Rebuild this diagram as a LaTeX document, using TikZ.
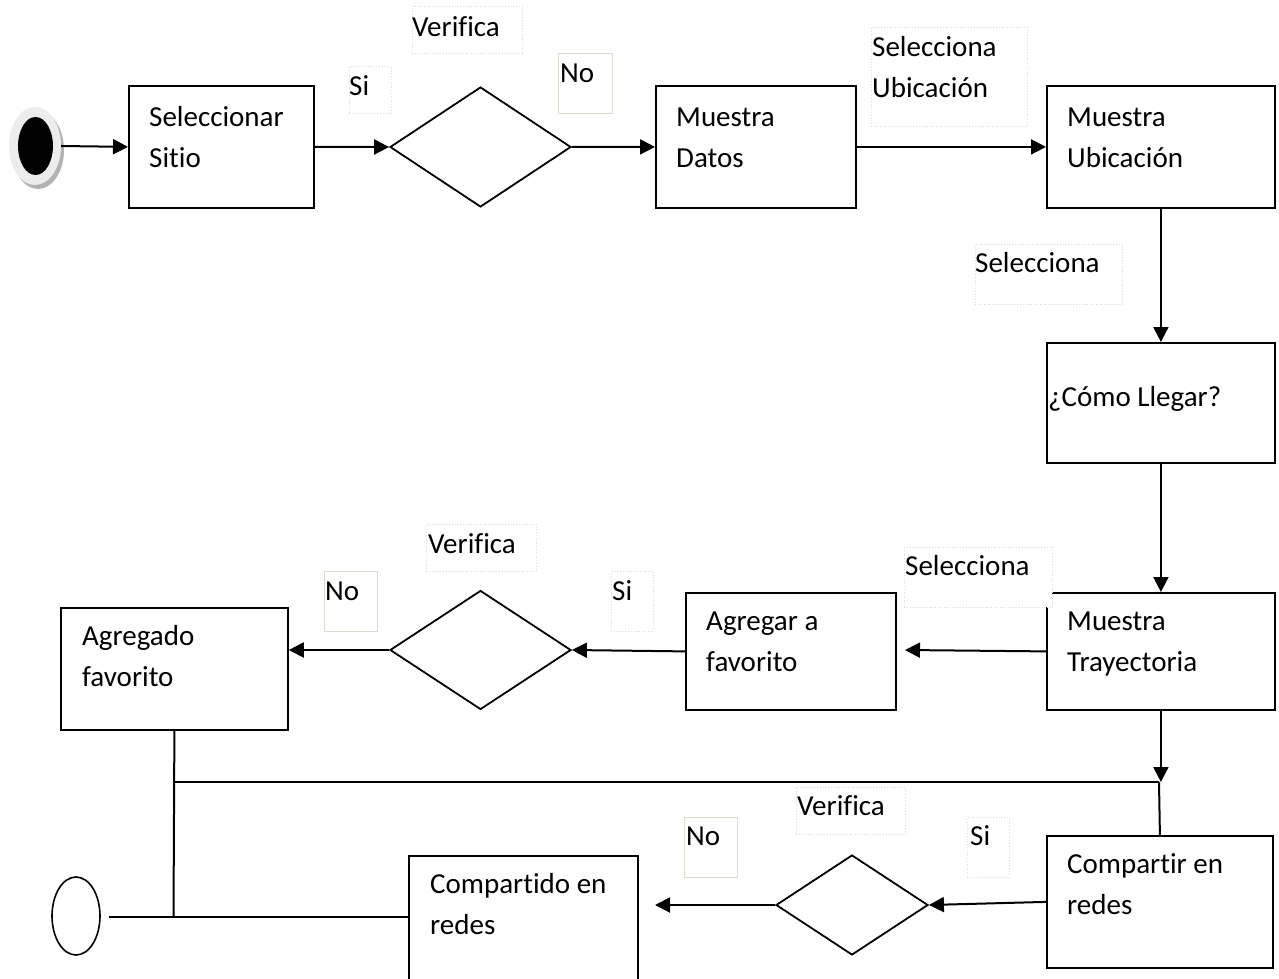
\documentclass[tikz,border=0pt]{standalone}
\usepackage{fontspec}
\setmainfont{Carlito}[Ligatures=NoCommon]
\usetikzlibrary{arrows.meta,shapes.geometric,calc}
\definecolor{lblbd}{RGB}{222,218,206}
\begin{document}
\begin{tikzpicture}[x=1pt,y=-1pt,
  box/.style={draw,line width=1.8pt,anchor=north west,inner sep=0pt,fill=white},
  dia/.style={draw,diamond,line width=1.8pt,inner sep=0pt},
  lbl/.style={draw=lblbd,line width=0.8pt,dotted,fill=white,anchor=north west,inner sep=0pt},
  lbls/.style={draw=lblbd,line width=1pt,fill=white,anchor=north west,inner sep=0pt},
  txt/.style={anchor=north west,inner sep=0pt,align=left,font=\fontsize{29}{41}\selectfont},
  arr/.style={line width=2pt,-{Triangle[length=15pt,width=15pt]}},
  ln/.style={line width=2pt}]
\useasboundingbox (0,0) rectangle (1279,979);
\fill[white] (0,0) rectangle (1279,979);

% start
\node[ellipse,fill=gray!60,minimum width=52pt,minimum height=78pt,inner sep=0pt] (sh) at (38,150) {};
\node[ellipse,fill=gray!15,minimum width=52pt,minimum height=78pt,inner sep=0pt] (ring) at (35,146) {};
\node[ellipse,fill=black,minimum width=35pt,minimum height=58pt,inner sep=0pt] (st) at (35.5,146) {};
% end
\node[ellipse,draw,line width=1.6pt,minimum width=48pt,minimum height=78pt,inner sep=0pt] (en) at (76,916) {};

% boxes
\node[box,minimum width=185pt,minimum height=122pt] (b1) at (128,85) {};
\node[box,minimum width=200pt,minimum height=122pt] (b2) at (655,85) {};
\node[box,minimum width=228pt,minimum height=122pt] (b3) at (1046,85) {};
\node[box,minimum width=228pt,minimum height=120pt] (b4) at (1046,342) {};
\node[box,minimum width=228pt,minimum height=117pt] (b5) at (1046,592) {};
\node[box,minimum width=210pt,minimum height=117pt] (b6) at (685,592) {};
\node[box,minimum width=227pt,minimum height=122pt] (b7) at (60,607) {};
\node[box,minimum width=226pt,minimum height=132pt] (b8) at (1046,835) {};
\node[box,minimum width=229pt,minimum height=140pt] (b9) at (408,855) {};

% diamonds
\node[dia,minimum width=181pt,minimum height=120pt] (d1) at (480.5,147) {};
\node[dia,minimum width=181pt,minimum height=119pt] (d2) at (480.5,650) {};
\node[dia,minimum width=152pt,minimum height=100pt] (d3) at (852,905) {};

% coordinates
\coordinate (c1) at (905,650);
\coordinate (c2) at (655,905);
\coordinate (j1) at (1159,782);
\coordinate (j3) at (173.5,917);
\coordinate (j4) at (109,917);

% connectors
\draw[arr] (ring.east) -- (b1.west);
\draw[arr] (b1.east) -- (d1.west);
\draw[arr] (d1.east) -- (b2.west);
\draw[arr] (b2.east) -- (b3.west);
\draw[arr] (b3.south) -- (b4.north);
\draw[arr] (b4.south) -- (b5.north);
\draw[arr] (b5.west) -- (c1);
\draw[arr] (b6.west) -- (d2.east);
\draw[arr] (d2.west) -- (b7.east |- d2.west);
\draw[arr] (b5.south) -- (b5.south |- j1);
\draw[ln] (j1) -- (b8.north);
\draw[ln] (b7.south |- j1) -- (j1);
\draw[ln] (b7.south) -- (j3);
\draw[ln] (b9.north west |- j3) -- (j4);
\draw[arr] (b8.west) -- (d3.east);
\draw[arr] (d3.west) -- (c2);

% label boxes
\node[lbl,minimum width=110pt,minimum height=47pt] (lv1) at (412,6) {};
\node[lbl,minimum width=42pt,minimum height=47pt] (ls1) at (349,66) {};
\node[lbls,minimum width=54pt,minimum height=60pt] (ln1) at (558,53) {};
\node[lbl,minimum width=156pt,minimum height=99pt] (lsu) at (871,27) {};
\node[lbl,minimum width=147pt,minimum height=60pt] (lse1) at (975,244) {};
\node[lbl,minimum width=110pt,minimum height=47pt] (lv2) at (426,524) {};
\node[lbls,minimum width=53pt,minimum height=60pt] (ln2) at (324,571) {};
\node[lbl,minimum width=42pt,minimum height=60pt] (ls2) at (611,571) {};
\node[lbl,minimum width=148pt,minimum height=60pt] (lse2) at (904,547) {};
\node[lbl,minimum width=109pt,minimum height=47pt] (lv3) at (796,787) {};
\node[lbls,minimum width=53pt,minimum height=60pt] (ln3) at (684,817) {};
\node[lbl,minimum width=42pt,minimum height=60pt] (ls3) at (967,817) {};

% texts
\node[txt] (t1) at (149,126-28.7) {\strut Seleccionar\\\strut Sitio};
\node[txt] (t2) at (676,126-28.7) {\strut Muestra\\\strut Datos};
\node[txt] (t3) at (1067,126-28.7) {\strut Muestra\\\strut Ubicación};
\node[txt] (t4) at (872,56-28.7) {\strut Selecciona\\\strut Ubicación};
\node[txt] (t5) at (412,36-28.7) {\strut Verifica};
\node[txt] (t6) at (349,95-28.7) {\strut Si};
\node[txt] (t7) at (560,82-28.7) {\strut No};
\node[txt] (t8) at (975,272-28.7) {\strut Selecciona};
\node[txt] (t9) at (1048,406-28.7) {\strut ¿Cómo Llegar?};
\node[txt] (t10) at (1067,630-28.7) {\strut Muestra\\\strut Trayectoria};
\node[txt] (t11) at (905,575-28.7) {\strut Selecciona};
\node[txt] (t12) at (706,630-28.7) {\strut Agregar a\\\strut favorito};
\node[txt] (t13) at (428,553-28.7) {\strut Verifica};
\node[txt] (t14) at (325,600-28.7) {\strut No};
\node[txt] (t15) at (612,600-28.7) {\strut Si};
\node[txt] (t16) at (82,645-28.7) {\strut Agregado\\\strut favorito};
\node[txt] (t17) at (1067,873-28.7) {\strut Compartir en\\\strut redes};
\node[txt] (t18) at (797,815-28.7) {\strut Verifica};
\node[txt] (t19) at (686,845-28.7) {\strut No};
\node[txt] (t20) at (970,845-28.7) {\strut Si};
\node[txt] (t21) at (430,893-28.7) {\strut Compartido en\\\strut redes};
\end{tikzpicture}
\end{document}
